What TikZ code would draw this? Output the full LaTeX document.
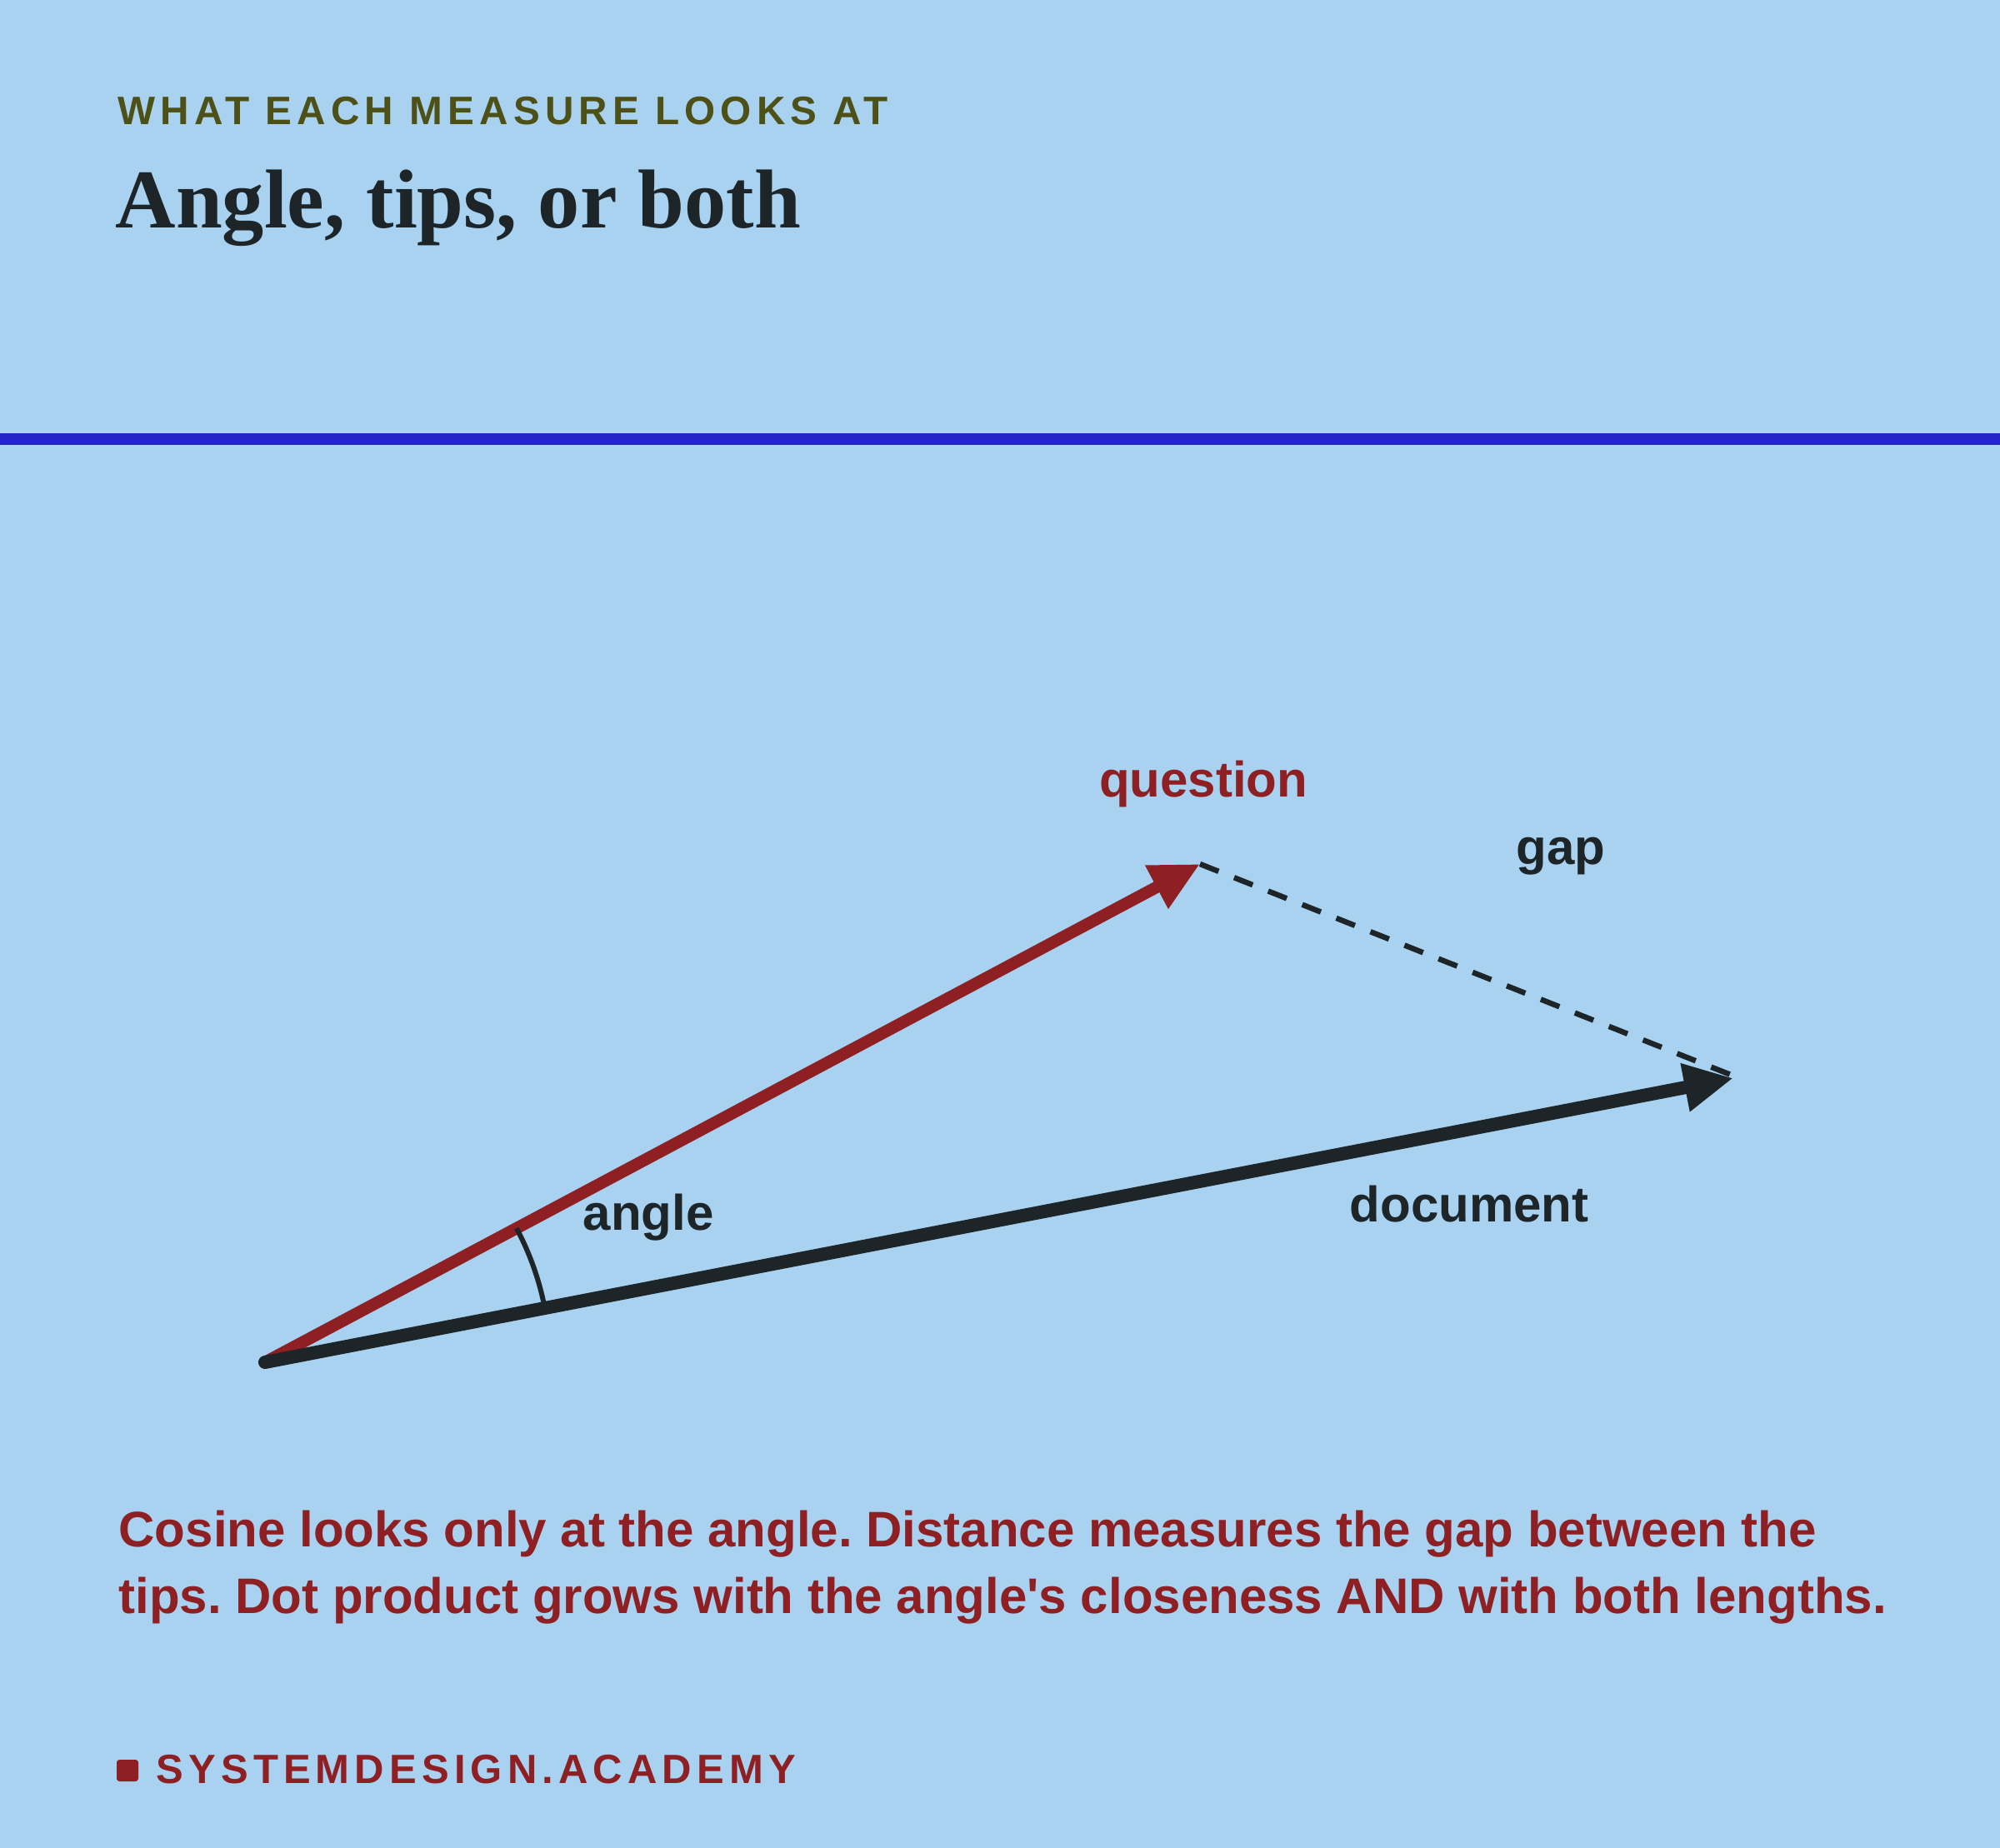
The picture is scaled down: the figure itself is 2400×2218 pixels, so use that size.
\documentclass[tikz,border=0pt]{standalone}
\usepackage{fontspec}
\setmainfont{Liberation Sans}
\newfontfamily\titlefont{Liberation Serif}
\newfontfamily\headfont{Liberation Sans}[LetterSpace=12.9]
\newfontfamily\footfont{Liberation Sans}[LetterSpace=12.5]
\usetikzlibrary{arrows.meta,angles}
\definecolor{bgblue}{HTML}{A8D2F0}
\definecolor{vecred}{HTML}{8E1F22}
\definecolor{inkdark}{HTML}{1E2528}
\definecolor{olive}{HTML}{4E5117}
\definecolor{ruleblue}{HTML}{2424C8}
\tikzset{
  lbl/.style={inner sep=0pt, anchor=base, font=\fontsize{18pt}{22pt}\selectfont\bfseries},
  bodytxt/.style={inner sep=0pt, anchor=base west, text=vecred, font=\fontsize{18pt}{24pt}\selectfont\bfseries\frenchspacing},
  vecline/.style={line width=#1, line cap=round, -{Triangle[length=17.7pt,width=16.5pt]}},
}
\begin{document}
\begin{tikzpicture}[x=0.3pt,y=-0.3pt]
\fill[bgblue] (0,0) rectangle (2400,2218);
\useasboundingbox (0,0) rectangle (2400,2218);
% header
\node[inner sep=0pt, anchor=base west, text=olive, font=\headfont\fontsize{14.3pt}{16pt}\selectfont\bfseries] (kicker) at (141,150) {WHAT EACH MEASURE LOOKS AT};
\node[inner sep=0pt, anchor=base west, text=inkdark, font=\titlefont\fontsize{30.1pt}{34pt}\selectfont\bfseries] (title) at (138,274) {Angle, tips, or both};
\fill[ruleblue] (0,520) rectangle (2400,534);
% vectors
\coordinate (O) at (318,1635);
\coordinate (Q) at (1440,1037);
\coordinate (D) at (2080,1294);
\coordinate (Dg) at (2077,1290);
\draw[vecred, vecline=4.3pt] (O) -- (Q);
\draw[inkdark, line width=1.95pt, dash pattern=on 7.2pt off 6pt] (Q) -- (Dg);
\draw[inkdark, vecline=4.8pt] (O) -- (D);
\pic[draw=inkdark, line width=1.8pt, angle radius=102.6pt] {angle=D--O--Q};
% labels
\node[lbl, text=vecred] (qlabel) at (1444,956) {question};
\node[lbl, text=inkdark] (gaplabel) at (1873,1037) {gap};
\node[lbl, text=inkdark] (anglelabel) at (778,1476) {angle};
\node[lbl, text=inkdark] (doclabel) at (1763,1466) {document};
% body
\node[bodytxt] (body1) at (142,1856) {Cosine looks only at the angle. Distance measures the gap between the};
\node[bodytxt] (body2) at (142,1936) {tips. Dot product grows with the angle\textquotesingle s closeness AND with both lengths.};
% footer
\fill[vecred, rounded corners=1pt] (140,2112) rectangle (166,2138);
\node[inner sep=0pt, anchor=base west, text=vecred, font=\footfont\fontsize{14.7pt}{16pt}\selectfont\bfseries] (brand) at (187,2140) {SYSTEMDESIGN.ACADEMY};
\end{tikzpicture}
\end{document}
